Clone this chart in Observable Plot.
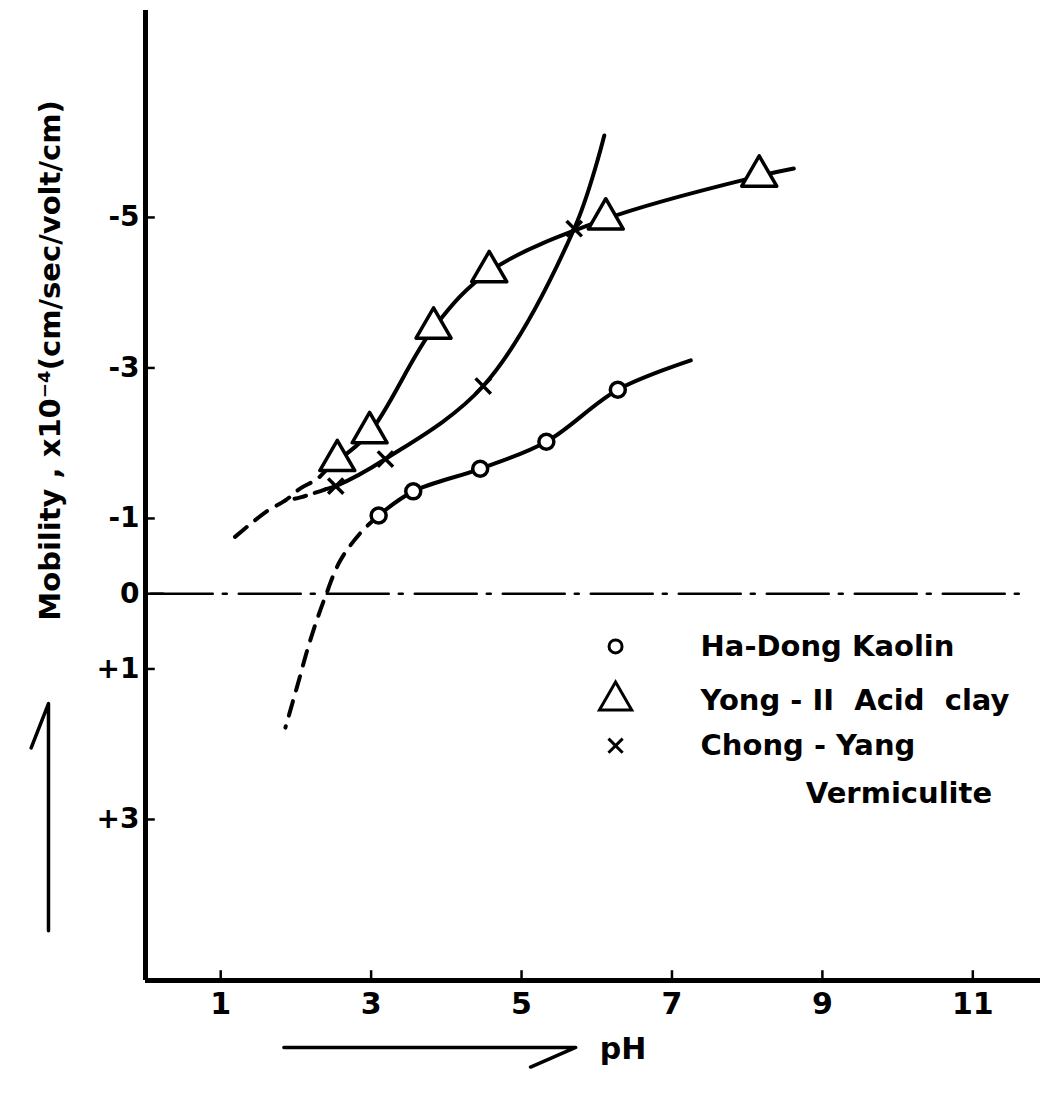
<!DOCTYPE html>
<html><head><meta charset="utf-8">
<script src="https://cdn.jsdelivr.net/npm/d3@7"></script>
<script src="https://cdn.jsdelivr.net/npm/@observablehq/plot@0.6"></script>
<style>html,body{margin:0;padding:0;background:#fff}</style>
</head><body><div id="chart"></div>
<script>
// ---- data (pH, mobility x10^-4 cm/sec/volt/cm) ----
const xTicks = [1, 3, 5, 7, 9, 11];
const yTicks = [-5, -3, -1, 0, 1, 3];
const xDomain = [0, 11.9];
const yDomain = [-7.75, 5.14];

const kaolinPoints = [[3.10, -1.04], [3.56, -1.36], [4.45, -1.66], [5.33, -2.02], [6.28, -2.71]];
const kaolinCurve = [[3.10, -1.04], [3.56, -1.36], [4.45, -1.66], [5.33, -2.02], [6.28, -2.71], [7.25, -3.10]];
const kaolinDashed = [[3.10, -1.04], [2.86, -0.81], [2.59, -0.44], [2.39, 0.04], [2.19, 0.62], [2.02, 1.22], [1.86, 1.78]];

const yongPoints = [[2.55, -1.77], [2.98, -2.14], [3.83, -3.53], [4.57, -4.28], [6.12, -4.98], [8.16, -5.55]];
const yongCurve = [[2.55, -1.77], [2.98, -2.14], [3.83, -3.53], [4.57, -4.28], [6.12, -4.98], [8.16, -5.55], [8.62, -5.65]];
const yongDashed = [[2.45, -1.70], [2.29, -1.53], [2.06, -1.40], [1.86, -1.24], [1.62, -1.10], [1.40, -0.93], [1.16, -0.73]];

const chongPoints = [[2.53, -1.43], [3.19, -1.79], [4.49, -2.76], [5.70, -4.85]];
const chongCurve = [[2.40, -1.39], [2.53, -1.43], [3.19, -1.79], [4.49, -2.76], [5.70, -4.85], [6.10, -6.09]];
const chongDashed = [[2.40, -1.39], [2.06, -1.28], [1.86, -1.24]];

const zeroLine = [[0.07, 0], [11.77, 0]];
const legendLabels = ["Ha-Dong Kaolin", "Yong - II  Acid  clay", "Chong - Yang", "Vermiculite"];
const legendSymbols = ["circle", "triangle", "times"];
// axis direction arrows, in chart units
const yArrow = [[-1.29, 4.48], [-1.29, 1.46], [-1.52, 2.05]];
const xArrow = [[1.84, 6.03], [5.72, 6.03], [5.12, 6.29]];
const yLabel = "Mobility , x10\u207B\u2074(cm/sec/volt/cm)";
const xLabel = "pH";

// ---- layout ----
const font = "'DejaVu Sans', 'Liberation Sans', sans-serif";
const fmt = v => v < 0 ? "-" + Math.abs(v) : v > 0 ? "+" + v : "0";
const X = d => d[0], Y = d => d[1];
const legendSymX = 6.25, legendTextX = 7.38, legendTextX2 = 8.78;
const legendRowY = [0.70, 1.42, 2.02, 2.66];
const legendSymR = {circle: 6.5, triangle: 12, times: 6.5};

const legendText = legendLabels.map((t, i) => ({t, x: i < 3 ? legendTextX : legendTextX2, y: legendRowY[i]}));
const legendSym = legendSymbols.map((s, i) => ({s, x: legendSymX, y: legendRowY[i]}));

const lw = 4;
const plot = Plot.plot({
  width: 1063, height: 1095,
  marginLeft: 145, marginRight: 23, marginTop: 10, marginBottom: 115,
  x: {domain: xDomain},
  y: {domain: yDomain, reverse: true},
  style: {fontFamily: font, background: "white", color: "black", overflow: "visible"},
  marks: [
    Plot.axisX(xTicks, {tickSize: 0, tickPadding: 12, fontSize: 30, fontWeight: "bold", label: null}),
    Plot.axisY(yTicks, {tickSize: 0, tickPadding: 6, fontSize: 28, fontWeight: "bold", tickFormat: fmt, label: null}),
    // axis lines and inward ticks
    Plot.ruleX([xDomain[0]], {y1: yDomain[0], y2: yDomain[1], strokeWidth: 5}),
    Plot.ruleY([yDomain[1]], {x1: xDomain[0], x2: xDomain[1], strokeWidth: 5}),
    Plot.ruleY(yTicks, {x1: xDomain[0], x2: d => d === 0 ? 0.25 : 0.13, strokeWidth: 2.5}),
    Plot.ruleX(xTicks, {y1: yDomain[1], y2: yDomain[1] - 0.13, strokeWidth: 2.5}),
    // zero line
    Plot.line(zeroLine, {x: X, y: Y, strokeWidth: 2.5, strokeDasharray: "62,10,4,12"}),
    // curves
    Plot.line(kaolinCurve, {x: X, y: Y, curve: "catmull-rom", strokeWidth: lw}),
    Plot.line(kaolinDashed, {x: X, y: Y, curve: "catmull-rom", strokeWidth: lw, strokeDasharray: "15,11"}),
    Plot.line(yongCurve, {x: X, y: Y, curve: "catmull-rom", strokeWidth: lw}),
    Plot.line(yongDashed, {x: X, y: Y, curve: "catmull-rom", strokeWidth: lw, strokeDasharray: "15,11"}),
    Plot.line(chongCurve, {x: X, y: Y, curve: "catmull-rom", strokeWidth: lw}),
    Plot.line(chongDashed, {x: X, y: Y, curve: "catmull-rom", strokeWidth: lw, strokeDasharray: "12,9"}),
    // markers
    Plot.dot(kaolinPoints, {x: X, y: Y, r: 7.5, fill: "white", stroke: "black", strokeWidth: 3.5}),
    Plot.dot(yongPoints, {x: X, y: Y, symbol: "triangle", r: 13, fill: "white", stroke: "black", strokeWidth: 3.5, strokeLinejoin: "round"}),
    Plot.dot(chongPoints, {x: X, y: Y, symbol: "times", r: 7, stroke: "black", strokeWidth: 3.5}),
    // legend
    ...legendSym.map(d => Plot.dot([d], {x: "x", y: "y", symbol: d.s, r: legendSymR[d.s], fill: "white", stroke: "black", strokeWidth: 3})),
    Plot.text(legendText, {x: "x", y: "y", text: "t", textAnchor: "start", fontSize: 29, fontWeight: "bold", fill: "black"}),
    // axis titles
    Plot.text([yLabel], {frameAnchor: "left", dx: -95, dy: -135, rotate: -90, textAnchor: "middle", fontSize: 29, fontWeight: "bold", fill: "black"}),
    Plot.text([xLabel], {frameAnchor: "bottom", dx: 30, dy: 78, textAnchor: "middle", fontSize: 30, fontWeight: "bold", fill: "black"}),
    // direction arrows
    Plot.line(yArrow, {x: X, y: Y, strokeWidth: 3.5, strokeLinejoin: "round"}),
    Plot.line(xArrow, {x: X, y: Y, strokeWidth: 3.5, strokeLinejoin: "round"})
  ]
});
document.getElementById("chart").appendChild(plot);
</script>
</body></html>
